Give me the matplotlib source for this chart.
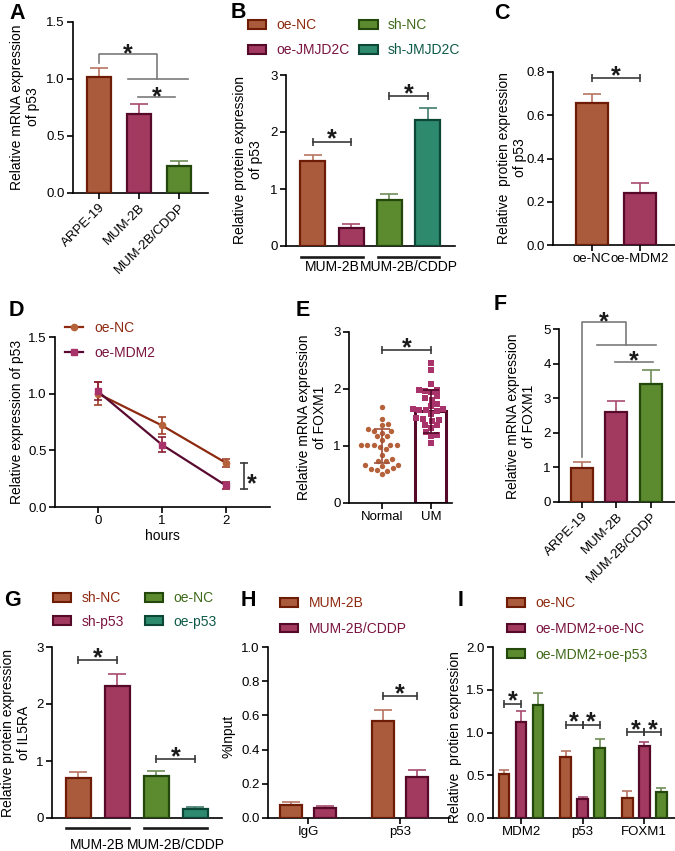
import numpy as np
import matplotlib
matplotlib.use("Agg")
import matplotlib.pyplot as plt
from matplotlib.patches import Patch
from matplotlib.lines import Line2D
from matplotlib.transforms import blended_transform_factory

# ---- data ----
A_groups = ["ARPE-19", "MUM-2B", "MUM-2B/CDDP"]
A_mean = [1.02, 0.69, 0.235]
A_err = [0.08, 0.09, 0.045]

B_labels = ["oe-NC", "oe-JMJD2C", "sh-NC", "sh-JMJD2C"]
B_cells = ["MUM-2B", "MUM-2B/CDDP"]
B_mean = [1.49, 0.31, 0.81, 2.21]
B_err = [0.11, 0.07, 0.10, 0.21]

C_groups = ["oe-NC", "oe-MDM2"]
C_mean = [0.657, 0.242]
C_err = [0.04, 0.043]

D_hours = [0, 1, 2]
D_nc = [1.00, 0.72, 0.39]
D_nc_err = [0.10, 0.075, 0.035]
D_mdm2 = [1.02, 0.55, 0.19]
D_mdm2_err = [0.08, 0.065, 0.035]

E_groups = ["Normal", "UM"]
E_normal = [1.68, 1.47, 1.39, 1.36, 1.27, 1.29, 1.26, 1.23, 1.17, 1.17,
            1.11, 1.02, 1.02, 1.01, 1.01, 1.01, 0.98, 0.94, 0.85, 0.77,
            0.73, 0.73, 0.67, 0.66, 0.65, 0.61, 0.60, 0.58, 0.56, 0.51]
E_um = [2.46, 2.33, 2.09, 1.94, 1.96, 1.99, 1.98, 1.87, 1.84, 1.81,
        1.73, 1.70, 1.64, 1.65, 1.63, 1.65, 1.61, 1.57, 1.49, 1.47,
        1.46, 1.43, 1.37, 1.36, 1.32, 1.24, 1.20, 1.18, 1.05]
E_mean = [1.00, 1.61]
E_sd = [0.30, 0.38]

F_groups = ["ARPE-19", "MUM-2B", "MUM-2B/CDDP"]
F_mean = [0.97, 2.61, 3.40]
F_err = [0.19, 0.32, 0.42]

G_labels = ["sh-NC", "sh-p53", "oe-NC", "oe-p53"]
G_cells = ["MUM-2B", "MUM-2B/CDDP"]
G_mean = [0.70, 2.31, 0.745, 0.157]
G_err = [0.10, 0.22, 0.075, 0.033]

H_targets = ["IgG", "p53"]
H_series = ["MUM-2B", "MUM-2B/CDDP"]
H_mum = [0.078, 0.569]
H_mum_err = [0.016, 0.065]
H_cddp = [0.058, 0.240]
H_cddp_err = [0.014, 0.039]

I_genes = ["MDM2", "p53", "FOXM1"]
I_series = ["oe-NC", "oe-MDM2+oe-NC", "oe-MDM2+oe-p53"]
I_nc = [0.51, 0.71, 0.234]
I_nc_err = [0.05, 0.07, 0.076]
I_mdm2 = [1.12, 0.22, 0.84]
I_mdm2_err = [0.135, 0.025, 0.045]
I_p53 = [1.32, 0.82, 0.30]
I_p53_err = [0.14, 0.10, 0.05]

# ---- style ----
W, H = 675, 851
plt.rcParams["font.family"] = ["Liberation Sans", "DejaVu Sans"]
FS = 9.5
LFS = 10

ORG, ORG_E, ORG_R, ORG_T = "#A95B3C", "#6E1C06", "#B87462", "#8E2A10"
MAG, MAG_E, MAG_R, MAG_T = "#A2395F", "#560A2A", "#A84A70", "#7A1440"
GRN, GRN_E, GRN_R, GRN_T = "#5B8A2F", "#24470C", "#6E8C58", "#3E6A1A"
TEA, TEA_E, TEA_R, TEA_T = "#2E8A6C", "#0C4636", "#3F7D6C", "#0E5A48"
GRAY = "#7A7A7A"
DARK = "#3A3A3A"

fig = plt.figure(figsize=(W / 100, H / 100), dpi=100)


def add_ax(l, t, r, b):
    ax = fig.add_axes([l / W, 1 - b / H, (r - l) / W, (b - t) / H])
    ax.spines[["top", "right"]].set_visible(False)
    ax.spines[["left", "bottom"]].set_linewidth(1.2)
    ax.tick_params(direction="out", length=4, width=1.2, labelsize=FS, pad=2)
    ax.patch.set_alpha(0)
    return ax


def bars(ax, x, h, err, face, edge, errc, w, cap=6.5):
    x = np.atleast_1d(x)
    errc = errc if isinstance(errc, list) else [errc] * len(x)
    for xi, hi, ei, ci in zip(x, h, err, errc):
        ax.errorbar([xi], [hi], yerr=[[0], [ei]], fmt="none", ecolor=ci,
                    elinewidth=1.2, capsize=cap, capthick=1.2, zorder=2)
    ax.bar(x, h, w, color=face, edgecolor=edge, linewidth=1.6, zorder=3)


def bracket(ax, x1, x2, y, color=DARK):
    ax.plot([x1, x2], [y, y], color=color, lw=1.2, marker="|", ms=6,
            mew=1.2, clip_on=False, zorder=5)


def star(ax, x, y, dy=-3.5):
    ax.annotate("*", (x, y), xytext=(0, dy), textcoords="offset points",
                ha="center", va="baseline", fontsize=18, fontweight="bold",
                color="#1A1A1A", annotation_clip=False)


def ylab(x, y, s):
    fig.text(x / W, 1 - y / H, s, rotation=90, ha="center", va="center",
             fontsize=FS + 0.5, linespacing=1.15)


def letter(x, y, s):
    fig.text(x / W, 1 - y / H, s, fontsize=15.5, fontweight="bold",
             ha="left", va="top")


def legend_at(ax, handles, labels, colors, x, y, ncol=1, colsp=1.0,
              rowsp=0.8, pad=0.75):
    leg = ax.legend(handles, labels, loc="upper left",
                    bbox_to_anchor=(x / W, 1 - y / H),
                    bbox_transform=fig.transFigure, ncol=ncol, frameon=False,
                    fontsize=LFS, handlelength=1.3, handleheight=0.6,
                    handletextpad=pad, columnspacing=colsp, labelspacing=rowsp,
                    borderpad=0, borderaxespad=0)
    for t, c in zip(leg.get_texts(), colors):
        t.set_color(c)


def swarm(vals, d, sy, sx):
    # simple beeswarm: points placed in pixel space, no overlap
    ys = np.asarray(vals) * sy
    xs = np.zeros(len(ys))
    placed = []
    for i in np.argsort(ys):
        y = ys[i]
        cands = [0.0]
        for px, py in placed:
            dy = abs(y - py)
            if dy < d:
                dx = np.sqrt(d * d - dy * dy)
                cands += [px + dx, px - dx]
        cands.sort(key=abs)
        for c in cands:
            if all((c - px) ** 2 + (y - py) ** 2 >= d * d - 1e-6
                   for px, py in placed):
                xs[i] = c
                break
        placed.append((xs[i], y))
    return xs / sx


# ---- A ----
axA = add_ax(73, 22, 208, 193)
x = np.arange(3)
bars(axA, x, A_mean, A_err, [ORG, MAG, GRN], [ORG_E, MAG_E, GRN_E],
     [ORG_R, MAG_R, GRN_R], 0.62)
axA.set_xlim(-0.65, 2.725)
axA.set_ylim(0, 1.5)
axA.set_yticks([0, 0.5, 1.0, 1.5], ["0.0", "0.5", "1.0", "1.5"])
axA.set_xticks(x, A_groups, rotation=45, ha="right", rotation_mode="anchor")
axA.plot([0, 0, 1.44, 1.44], [1.14, 1.22, 1.22, 1.0], color=GRAY, lw=1.2)
axA.plot([0.73, 2.23], [1.0, 1.0], color=GRAY, lw=1.2)
axA.plot([0.98, 1.9], [0.84, 0.84], color=GRAY, lw=1.2)
star(axA, 0.72, 1.22, dy=-5)
star(axA, 1.44, 0.84, dy=-5)
ylab(25, 107, "Relative mRNA expression\nof p53")
letter(9, 3, "A")

# ---- B ----
axB = add_ax(286, 75, 455, 246)
x = np.arange(4)
bars(axB, x, B_mean, B_err, [ORG, MAG, GRN, TEA], [ORG_E, MAG_E, GRN_E, TEA_E],
     [ORG_R, MAG_R, GRN_R, TEA_R], 0.65)
axB.set_xlim(-0.70, 3.71)
axB.set_ylim(0, 3)
axB.set_yticks([0, 1, 2, 3])
axB.set_xticks([])
bracket(axB, 0, 1, 1.83)
bracket(axB, 2, 3, 2.63)
star(axB, 0.5, 1.83)
star(axB, 2.5, 2.63)
tr = blended_transform_factory(axB.transData, axB.transAxes)
for i, name in enumerate(B_cells):
    axB.plot([2 * i - 0.3, 2 * i + 1.3], [-0.064, -0.064], color="#1A1A1A",
             lw=1.9, transform=tr, clip_on=False)
    axB.text(2 * i + 0.5, -0.125, name, transform=tr, ha="center", va="center",
             fontsize=LFS)
legend_at(axB, [Patch(facecolor=c, edgecolor=e, lw=1.5) for c, e in
                zip([ORG, MAG, GRN, TEA], [ORG_E, MAG_E, GRN_E, TEA_E])],
          B_labels, [ORG_T, MAG_T, GRN_T, TEA_T], 248, 18, ncol=2, colsp=0.7)
ylab(248, 160, "Relative protein expression\nof p53")
letter(231, 2, "B")

# ---- C ----
axC = add_ax(553, 72, 675, 245)
x = np.arange(2)
bars(axC, x, C_mean, C_err, [ORG, MAG], [ORG_E, MAG_E], [ORG_R, MAG_R], 0.66)
axC.set_xlim(-0.81, 1.73)
axC.set_ylim(0, 0.8)
axC.set_yticks([0, 0.2, 0.4, 0.6, 0.8], ["0.0", "0.2", "0.4", "0.6", "0.8"])
axC.set_xticks(x, C_groups)
bracket(axC, 0, 1, 0.772)
star(axC, 0.5, 0.772)
ylab(512, 158, "Relative  protien expression\nof p53")
letter(494, 3, "C")

# ---- D ----
axD = add_ax(55, 337, 270, 507)
axD.errorbar(D_hours, D_nc, yerr=D_nc_err, color="#8E2A10", lw=1.6,
             marker="o", ms=4.5, mfc="#B5623A", mec="#B5623A",
             ecolor="#A0402A", elinewidth=1.2, capsize=3, capthick=1.2,
             zorder=3)
axD.errorbar(D_hours, D_mdm2, yerr=D_mdm2_err, color="#5A0A30", lw=1.6,
             marker="s", ms=4.5, mfc="#A8336A", mec="#A8336A",
             ecolor="#8A2030", elinewidth=1.2, capsize=3, capthick=1.2,
             zorder=3)
axD.set_xlim(-0.67, 2.69)
axD.set_ylim(0, 1.5)
axD.set_yticks([0, 0.5, 1.0, 1.5], ["0.0", "0.5", "1.0", "1.5"])
axD.set_xticks(D_hours)
axD.set_xlabel("hours", fontsize=LFS, labelpad=1)
axD.plot([2.28, 2.28], [0.155, 0.385], color=DARK, lw=1.2, marker="_",
         ms=6, mew=1.2, clip_on=False)
star(axD, 2.40, 0.27, dy=-10.5)
legend_at(axD, [Line2D([], [], color="#8E2A10", lw=1.6, marker="o", ms=4.5,
                       mfc="#B5623A", mec="#B5623A"),
                Line2D([], [], color="#5A0A30", lw=1.6, marker="s", ms=4.5,
                       mfc="#A8336A", mec="#A8336A")],
          ["oe-NC", "oe-MDM2"], [ORG_T, MAG_T], 65, 321, pad=0.85)
ylab(17, 422, "Relative expression of p53")
letter(9, 300, "D")

# ---- E ----
axE = add_ax(349, 332, 452, 503)
axE.bar([1], [E_mean[1]], 0.63, color="white", edgecolor=MAG_E, lw=2.2,
        zorder=1)
axE.scatter(swarm(E_normal, 6.3, 57, 49), E_normal, s=15, marker="o",
            color="#B5623A", lw=0, zorder=3)
axE.scatter(1 + swarm(E_um, 6.3, 57, 49), E_um, s=15, marker="s",
            color="#A8336A", lw=0, zorder=3)
for xi, m, s, c in zip([0, 1], E_mean, E_sd, ["#A0503A", MAG_E]):
    axE.errorbar([xi], [m], yerr=[s], fmt="none", ecolor=c,
                 elinewidth=1.2, capsize=6, capthick=1.2, zorder=4)
axE.set_xlim(-0.67, 1.43)
axE.set_ylim(0, 3)
axE.set_yticks([0, 1, 2, 3])
axE.set_xticks([0, 1], E_groups)
bracket(axE, 0, 1, 2.68)
star(axE, 0.5, 2.68)
ylab(312, 417, "Relative mRNA expression\nof FOXM1")
letter(296, 300, "E")

# ---- F ----
axF = add_ax(559, 329, 675, 502)
x = np.arange(3)
bars(axF, x, F_mean, F_err, [ORG, MAG, GRN], [ORG_E, MAG_E, GRN_E],
     [ORG_R, MAG_R, GRN_R], 0.64)
axF.set_xlim(-0.67, 2.70)
axF.set_ylim(0, 5)
axF.set_yticks(range(6))
axF.set_xticks(x, F_groups, rotation=45, ha="right", rotation_mode="anchor")
axF.plot([0, 0, 1.28, 1.28], [1.31, 5.19, 5.19, 4.53], color=GRAY, lw=1.2,
         clip_on=False)
axF.plot([0.43, 2.16], [4.53, 4.53], color=GRAY, lw=1.2)
axF.plot([0.96, 2.05], [4.06, 4.06], color=GRAY, lw=1.2)
star(axF, 0.64, 5.19, dy=-5)
star(axF, 1.5, 4.06, dy=-5)
ylab(521, 416, "Relative mRNA expression\nof FOXM1")
letter(494, 294, "F")

# ---- G ----
axG = add_ax(52, 647, 222, 818)
x = np.arange(4)
bars(axG, x, G_mean, G_err, [ORG, MAG, GRN, TEA], [ORG_E, MAG_E, GRN_E, TEA_E],
     [ORG_R, MAG_R, GRN_R, TEA_R], 0.64)
axG.set_xlim(-0.67, 3.69)
axG.set_ylim(0, 3)
axG.set_yticks([0, 1, 2, 3])
axG.set_xticks([])
bracket(axG, 0, 1, 2.77)
bracket(axG, 2, 3, 1.03)
star(axG, 0.5, 2.77)
star(axG, 2.5, 1.03)
tr = blended_transform_factory(axG.transData, axG.transAxes)
for i, name in enumerate(G_cells):
    axG.plot([2 * i - 0.3, 2 * i + 1.3], [-0.058, -0.058], color="#1A1A1A",
             lw=1.9, transform=tr, clip_on=False)
    axG.text(2 * i + 0.5, -0.158, name, transform=tr, ha="center", va="center",
             fontsize=LFS)
legend_at(axG, [Patch(facecolor=c, edgecolor=e, lw=1.5) for c, e in
                zip([ORG, MAG, GRN, TEA], [ORG_E, MAG_E, GRN_E, TEA_E])],
          G_labels, [ORG_T, MAG_T, GRN_T, TEA_T], 53, 591, ncol=2, colsp=1.5,
          rowsp=0.7)
ylab(16, 733, "Relative protein expression\nof IL5RA")
letter(4, 590, "G")

# ---- H ----
axH = add_ax(268, 647, 450, 818)
x = np.arange(2)
bars(axH, x - 0.185, H_mum, H_mum_err, ORG, ORG_E, ORG_R, 0.24)
bars(axH, x + 0.185, H_cddp, H_cddp_err, MAG, MAG_E, MAG_R, 0.24)
axH.set_xlim(-0.435, 1.54)
axH.set_ylim(0, 1)
axH.set_yticks(np.arange(0, 1.01, 0.2), ["0.0", "0.2", "0.4", "0.6", "0.8", "1.0"])
axH.set_xticks(x, H_targets)
bracket(axH, 1 - 0.185, 1 + 0.185, 0.711)
star(axH, 1, 0.711)
legend_at(axH, [Patch(facecolor=ORG, edgecolor=ORG_E, lw=1.5),
                Patch(facecolor=MAG, edgecolor=MAG_E, lw=1.5)],
          H_series, [ORG_T, MAG_T], 280, 596, rowsp=0.85)
ylab(228, 736, "%Input")
letter(241, 590, "H")

# ---- I ----
axI = add_ax(493, 647, 675, 818)
x = np.arange(3)
off = 0.276
bars(axI, x - off, I_nc, I_nc_err, ORG, ORG_E, ORG_R, 0.175, cap=3.5)
bars(axI, x, I_mdm2, I_mdm2_err, MAG, MAG_E, MAG_R, 0.175, cap=3.5)
bars(axI, x + off, I_p53, I_p53_err, GRN, GRN_E, GRN_R, 0.175, cap=3.5)
axI.set_xlim(-0.455, 2.50)
axI.set_ylim(0, 2)
axI.set_yticks([0, 0.5, 1.0, 1.5, 2.0], ["0.0", "0.5", "1.0", "1.5", "2.0"])
axI.set_xticks(x, I_genes)
bracket(axI, -off, 0, 1.337)
star(axI, -off / 2, 1.337)
for g, yb in [(1, 1.09), (2, 1.006)]:
    bracket(axI, g - off, g, yb)
    bracket(axI, g, g + off, yb)
    star(axI, g - off / 2, yb)
    star(axI, g + off / 2, yb)
legend_at(axI, [Patch(facecolor=ORG, edgecolor=ORG_E, lw=1.5),
                Patch(facecolor=MAG, edgecolor=MAG_E, lw=1.5),
                Patch(facecolor=GRN, edgecolor=GRN_E, lw=1.5)],
          I_series, [ORG_T, MAG_T, GRN_T], 507, 596, rowsp=0.85)
ylab(455, 737, "Relative  protien expression")
letter(458, 590, "I")

fig.savefig("out.png", dpi=100)
